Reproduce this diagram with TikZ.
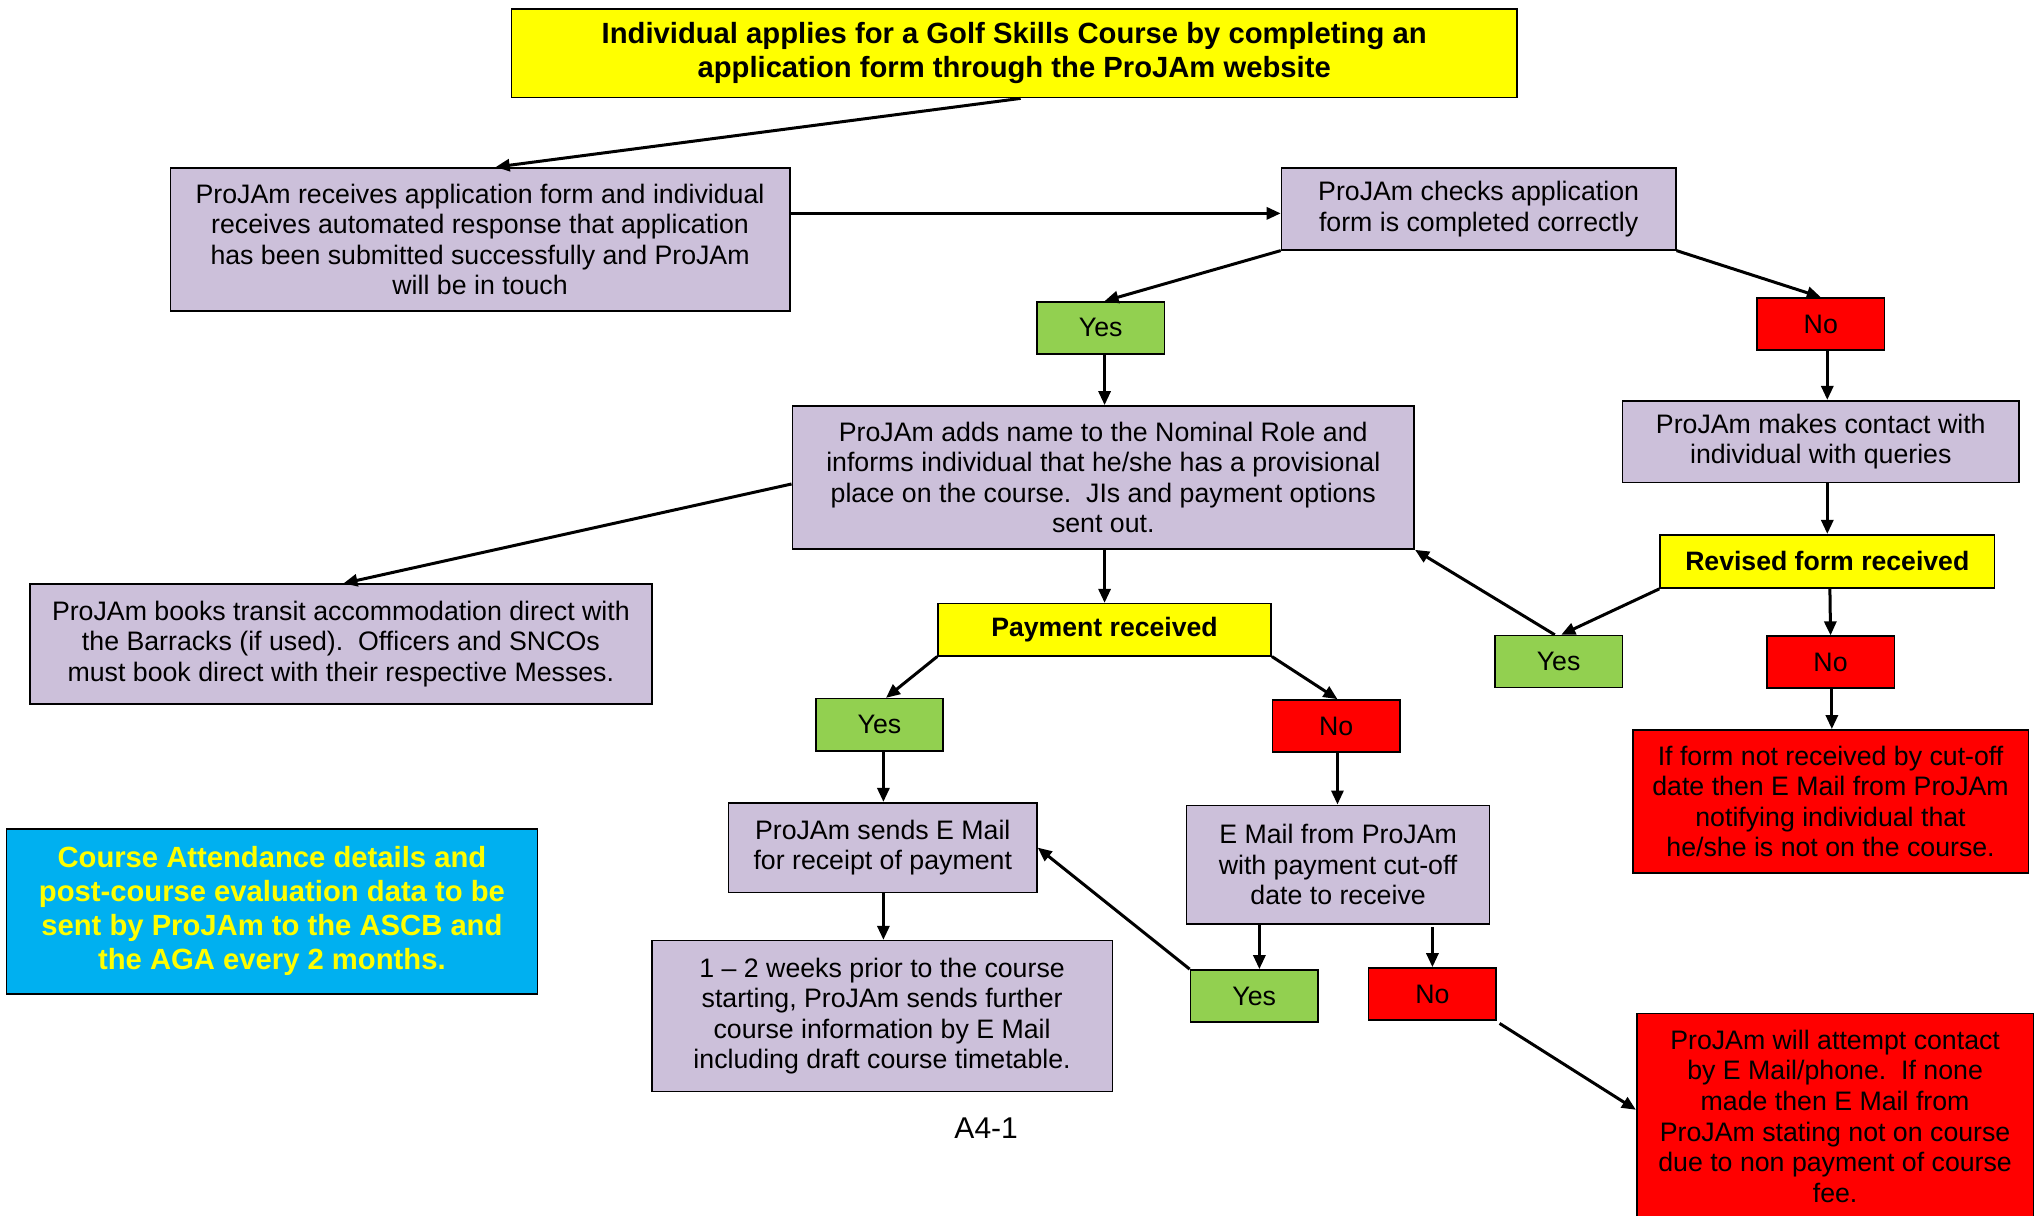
\documentclass[tikz,border=0pt]{standalone}
\usepackage{fontspec}
\setmainfont{Liberation Sans}
\usetikzlibrary{arrows.meta,calc}
\definecolor{lav}{RGB}{204,192,218}
\definecolor{yel}{RGB}{255,255,0}
\definecolor{grn}{RGB}{146,208,80}
\definecolor{redc}{RGB}{255,0,0}
\definecolor{bluec}{RGB}{0,176,240}
\newcommand\myu{0.65pt}
\tikzset{
  box/.style={draw=black, line width=0.8pt, align=center, inner sep=0pt,
    font=\fontsize{13.35}{15.3}\selectfont},
  lavbox/.style={box, fill=lav},
  yelbox/.style={box, fill=yel, font=\bfseries\fontsize{13.3}{16.8}\selectfont},
  bigyel/.style={box, fill=yel, font=\bfseries\fontsize{14.6}{17}\selectfont},
  grnbox/.style={box, fill=grn, minimum width=98*\myu, minimum height=40*\myu},
  redbox/.style={box, fill=redc},
  nobox/.style={redbox, minimum width=98*\myu, minimum height=40*\myu},
  bluebox/.style={box, fill=bluec, text=yel, font=\bfseries\fontsize{14.6}{17}\selectfont},
  arr/.style={-{Triangle[length=7pt,width=6pt]}, line width=1.5pt},
}
\begin{document}
\begin{tikzpicture}[x=0.65pt,y=-0.65pt]
\useasboundingbox (0,0) rectangle (1568,934);
% nodes
\node[bigyel, minimum width=773*\myu, minimum height=68*\myu] (title) at (779.5,41)
  {Individual applies for a Golf Skills Course by completing an\\application form through the ProJAm website};
\node[lavbox, minimum width=476*\myu, minimum height=110*\myu] (recv) at (369,184)
  {ProJAm receives application form and individual\\receives automated response that application\\has been submitted successfully and ProJAm\\will be in touch};
\node[lavbox, minimum width=303*\myu, minimum height=63*\myu] (check) at (1136.5,160.5)
  {ProJAm checks application\\form is completed correctly};
\node[grnbox] (yes1) at (846,252) {Yes};
\node[nobox] (no1) at (1399.5,249) {No};
\node[lavbox, minimum width=478*\myu, minimum height=110*\myu] (adds) at (848,367)
  {ProJAm adds name to the Nominal Role and\\informs individual that he/she has a provisional\\place on the course.\ \ JIs and payment options\\sent out.};
\node[lavbox, minimum width=305*\myu, minimum height=63*\myu] (contact) at (1399.5,339.5)
  {ProJAm makes contact with\\individual with queries};
\node[yelbox, minimum width=257*\myu, minimum height=41*\myu] (revised) at (1404.5,431.5)
  {Revised form received};
\node[grnbox] (yes2) at (1198,508.5) {Yes};
\node[nobox] (no2) at (1407,509) {No};
\node[redbox, minimum width=304*\myu, minimum height=110*\myu] (ifform) at (1407,616)
  {If form not received by cut-off\\date then E Mail from ProJAm\\notifying individual that\\he/she is not on the course.};
\node[lavbox, minimum width=478*\myu, minimum height=92*\myu] (books) at (262,495)
  {ProJAm books transit accommodation direct with\\the Barracks (if used).\ \ Officers and SNCOs\\must book direct with their respective Messes.};
\node[yelbox, minimum width=256*\myu, minimum height=40*\myu] (pay) at (849,484)
  {Payment received};
\node[grnbox] (yes3) at (676,557) {Yes};
\node[nobox] (no3) at (1027,558) {No};
\node[lavbox, minimum width=237*\myu, minimum height=69*\myu] (sends) at (678.5,651.5)
  {ProJAm sends E Mail\\for receipt of payment};
\node[lavbox, minimum width=233*\myu, minimum height=91*\myu] (efrom) at (1028.5,664.5)
  {E Mail from ProJAm\\with payment cut-off\\date to receive};
\node[lavbox, minimum width=354*\myu, minimum height=116*\myu] (weeks) at (678,781)
  {1 – 2 weeks prior to the course\\starting, ProJAm sends further\\course information by E Mail\\including draft course timetable.};
\node[grnbox] (yes4) at (964,765.5) {Yes};
\node[nobox] (no4) at (1101,764) {No};
\node[redbox, minimum width=305*\myu, minimum height=158*\myu] (will) at (1410.5,858)
  {ProJAm will attempt contact\\by E Mail/phone.\ \ If none\\made then E Mail from\\ProJAm stating not on course\\due to non payment of course\\fee.};
\node[bluebox, minimum width=408*\myu, minimum height=127*\myu] (blue) at (209,700.5)
  {Course Attendance details and\\post-course evaluation data to be\\sent by ProJAm to the ASCB and\\the AGA every 2 months.};
\node[font=\fontsize{15}{17}\selectfont, inner sep=0pt] (a41) at (758,867) {A4-1};
% connectors
\draw[arr] ($(title.south)+(5,0)$) -- ($(recv.north)+(12,0)$);
\draw[arr] ($(recv.east |- check.west)+(0,3.5)$) -- ($(check.west)+(0,3.5)$);
\draw[arr] (check.south west) -- ($(yes1.north)+(3,0)$);
\draw[arr] (check.south east) -- (no1.north);
\draw[arr] ($(yes1.south)+(3,0)$) -- ($(adds.north)+(1,0)$);
\draw[arr] ($(no1.south)+(5,0)$) -- ($(contact.north)+(5,0)$);
\draw[arr] ($(contact.south)+(5,0)$) -- ($(revised.north)$);
\draw[arr] ($(adds.west)+(0,5)$) -- ($(books.north)+(2,0)$);
\draw[arr] ($(adds.south)+(1,0)$) -- (pay.north);
\draw[arr] (revised.south west) -- ($(yes2.north)+(2,0)$);
\draw[arr] ($(yes2.north)+(-3,0)$) -- (adds.south east);
\draw[arr] ($(revised.south)+(2,0)$) -- (no2.north);
\draw[arr] ($(no2.south)+(1,0)$) -- ($(ifform.north)+(1,0)$);
\draw[arr] (pay.south west) -- ($(yes3.north)+(5,0)$);
\draw[arr] (pay.south east) -- ($(no3.north)+(1,0)$);
\draw[arr] ($(yes3.south)+(3,0)$) -- ($(sends.north)+(0.5,0)$);
\draw[arr] ($(no3.south)+(1,0)$) -- ($(efrom.north)+(-0.5,0)$);
\draw[arr] ($(sends.south)+(0.5,0)$) -- ($(weeks.north)+(1,0)$);
\draw[arr] ($(efrom.south)+(-60.5,0)$) -- ($(yes4.north)+(4,0)$);
\draw[arr] ($(efrom.south)+(72.5,2)$) -- (no4.north);
\draw[arr] (yes4.north west) -- (sends.east);
\draw[arr] ($(no4.south east)+(2,2)$) -- ($(will.west)+(0,-5)$);
\end{tikzpicture}
\end{document}
